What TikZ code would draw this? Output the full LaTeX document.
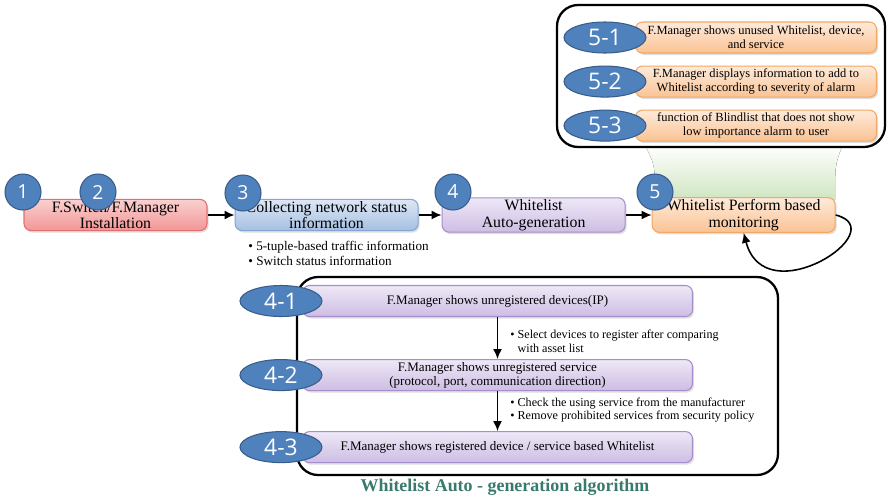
\documentclass[tikz,border=0pt]{standalone}
\usepackage{fontspec}
\setmainfont{Liberation Serif}
\newfontfamily\numfont{Open Sans}
\usetikzlibrary{arrows.meta,positioning,shapes.geometric,shadows}
\definecolor{numblue}{HTML}{4F81BD}
\definecolor{numline}{HTML}{385D8A}
\definecolor{redtop}{HTML}{FAD0D0}
\definecolor{redbot}{HTML}{F29696}
\definecolor{redline}{HTML}{E07070}
\definecolor{bluetop}{HTML}{DDE7F4}
\definecolor{bluebot}{HTML}{A6C0E2}
\definecolor{blueline}{HTML}{86A4D2}
\definecolor{purptop}{HTML}{EEE8F6}
\definecolor{purpbot}{HTML}{CDBDE4}
\definecolor{purpline}{HTML}{A58ECB}
\definecolor{orgtop}{HTML}{FEEADA}
\definecolor{orgbot}{HTML}{FAC394}
\definecolor{orgline}{HTML}{F2A864}
\definecolor{glow}{HTML}{CFE5C0}
\definecolor{captteal}{HTML}{3A7A6C}

\begin{document}
\begin{tikzpicture}[node distance=0.54cm and 0.54cm,every node/.style={align=center},stage/.style={rounded corners=4pt,line width=0.6pt,minimum width=3.66cm,minimum height=0.6cm,inner sep=1pt,font=\fontsize{9}{9.4}\selectfont,drop shadow={shadow xshift=0.03cm,shadow yshift=-0.04cm,opacity=0.25}},redstage/.style={stage,draw=redline,top color=redtop,bottom color=redbot},bluestage/.style={stage,draw=blueline,top color=bluetop,bottom color=bluebot},purpstage/.style={stage,draw=purpline,top color=purptop,bottom color=purpbot},orgstage/.style={stage,draw=orgline,top color=orgtop,bottom color=orgbot},substep/.style={purpstage,minimum width=7.8cm,minimum height=0.62cm,font=\fontsize{7.4}{8}\selectfont},subalarm/.style={orgstage,minimum width=4.82cm,minimum height=0.62cm,font=\fontsize{7.1}{7.8}\selectfont},num/.style={circle,draw=numline,fill=numblue,text=white,line width=0.6pt,minimum size=0.72cm,inner sep=0pt,font=\numfont\fontsize{11}{11}\selectfont},subnum/.style={ellipse,draw=numline,fill=numblue,text=white,line width=0.6pt,minimum width=1.64cm,minimum height=0.62cm,inner sep=0pt,font=\numfont\fontsize{13}{13}\selectfont},frame/.style={draw,line width=1.3pt,rounded corners=12pt},flow/.style={-{Latex[length=2mm,width=1.8mm]},line width=0.9pt},note/.style={align=left,inner sep=0pt,font=\fontsize{6.9}{7.8}\selectfont}]
\useasboundingbox (0,0) rectangle (17.78,-9.98);
\fill[top color=white,bottom color=glow] (12.9,-2.9) .. controls (13.1,-3.3) .. (13.1,-4.0) -- (16.7,-4.0) .. controls (16.7,-3.3) .. (16.85,-2.9) -- cycle;
\draw[frame,fill=white] (11.14,-0.1) rectangle (17.7,-2.94);
\draw[frame] (5.94,-5.54) rectangle (15.56,-9.5);
\node[redstage] (b1) at (2.31,-4.3) {F.Switch/F.Manager\\Installation};
\node[bluestage,right=0.54cm of b1] (b3) {Collecting network status\\information};
\node[purpstage,right=0.46cm of b3] (b4) {Whitelist\\Auto-generation};
\node[orgstage,right=0.52cm of b4] (b5) {Whitelist Perform based\\monitoring};
\draw[flow] (b1)--(b3); \draw[flow] (b3)--(b4); \draw[flow] (b4)--(b5);
\draw[flow] (b5.east) .. controls (17.9,-4.6) and (15.3,-6.3) .. (b5.south);
\node[num] (n1) at (0.46,-3.84) {1}; \node[num] (n2) at (1.96,-3.84) {2}; \node[num] (n3) at (4.86,-3.86) {3}; \node[num] (n4) at (9.06,-3.84) {4}; \node[num] (n5) at (13.1,-3.84) {5};
\node[note,anchor=west,font=\fontsize{7.5}{8.2}\selectfont] (t3) at (4.96,-5.07) {\textbullet\ 5-tuple-based traffic information\\\textbullet\ Switch status information};
\node[subalarm] (a1) at (15.12,-0.75) {F.Manager shows unused Whitelist, device,\\and service};
\node[subalarm,below=0.24cm of a1] (a2) {F.Manager displays information to add to\\Whitelist according to severity of alarm};
\node[subalarm,below=0.24cm of a2] (a3) {function of Blindlist that does not show\\low importance alarm to user};
\node[subnum] (m1) at ([xshift=-0.6cm]a1.west) {5-1}; \node[subnum] (m2) at ([xshift=-0.6cm]a2.west) {5-2}; \node[subnum] (m3) at ([xshift=-0.6cm]a3.west) {5-3};
\node[substep] (s1) at (9.95,-6.02) {F.Manager shows unregistered devices(IP)};
\node[substep,below=0.84cm of s1] (s2) {F.Manager shows unregistered service\\(protocol, port, communication direction)};
\node[substep,below=0.8cm of s2] (s3) {F.Manager shows registered device / service based Whitelist};
\draw[flow] (s1)--(s2); \draw[flow] (s2)--(s3);
\node[subnum] (k1) at ([xshift=-0.42cm]s1.west) {4-1}; \node[subnum] (k2) at ([xshift=-0.42cm]s2.west) {4-2}; \node[subnum] (k3) at ([xshift=-0.42cm]s3.west) {4-3};
\node[note,anchor=west] (t1) at (10.2,-6.82) {\textbullet\ Select devices to register after comparing\\\phantom{\textbullet\ }with asset list};
\node[note,anchor=west] (t2) at (10.2,-8.2) {\textbullet\ Check the using service from the manufacturer\\\textbullet\ Remove prohibited services from security policy};
\node[font=\bfseries\fontsize{10.2}{11}\selectfont,text=captteal] (cap) at (10.1,-9.74) {Whitelist Auto - generation algorithm};
\end{tikzpicture}
\end{document}
